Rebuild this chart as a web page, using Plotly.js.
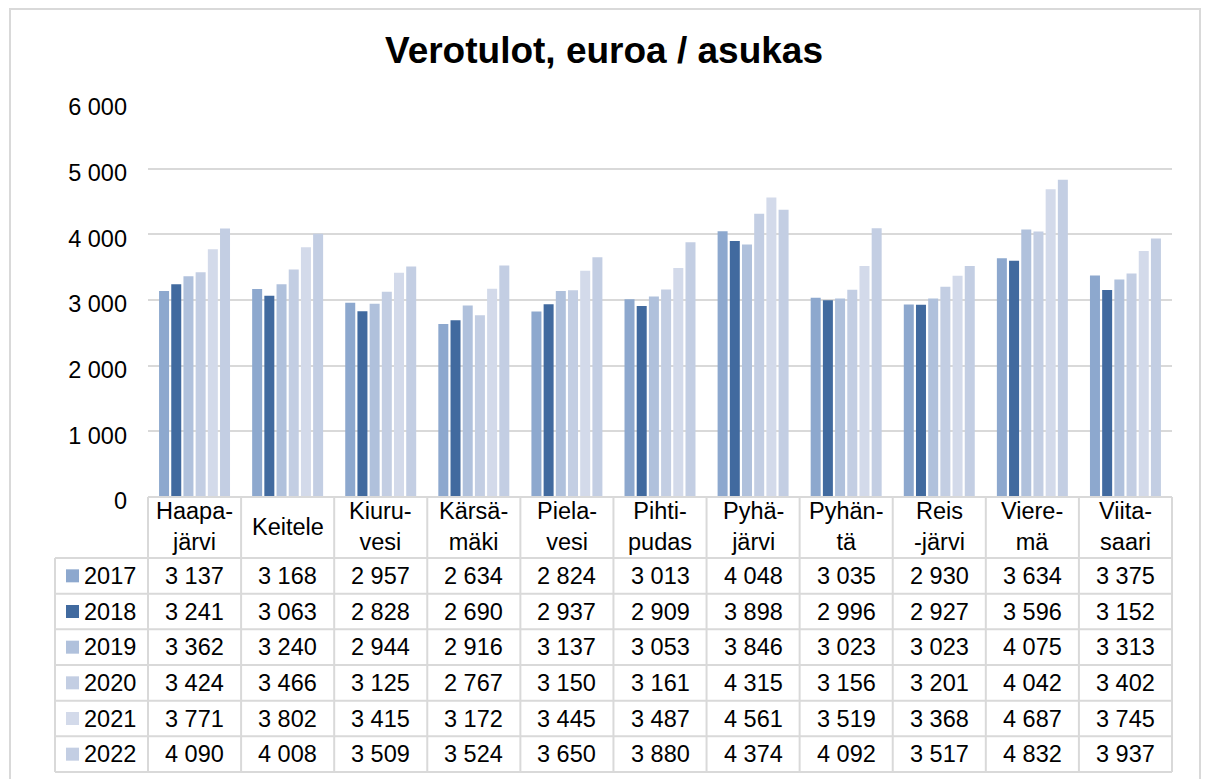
<!DOCTYPE html>
<html>
<head>
<meta charset="utf-8">
<script src="https://cdn.plot.ly/plotly-3.0.1.min.js"></script>
<style>html,body{margin:0;padding:0;background:#fff;}#chart{width:1208px;height:779px;}</style>
</head>
<body>
<div id="chart"></div>
<script>
// ---- Data ----
const categories = ["Haapajärvi","Keitele","Kiuruvesi","Kärsämäki","Pielavesi","Pihtipudas","Pyhäjärvi","Pyhäntä","Reisjärvi","Vieremä","Viitasaari"];
const categoryLabels = ["Haapa-<br>järvi","Keitele","Kiuru-<br>vesi","Kärsä-<br>mäki","Piela-<br>vesi","Pihti-<br>pudas","Pyhä-<br>järvi","Pyhän-<br>tä","Reis<br>-järvi","Viere-<br>mä","Viita-<br>saari"];
const years = ["2017","2018","2019","2020","2021","2022"];
const v2017 = [3137,3168,2957,2634,2824,3013,4048,3035,2930,3634,3375];
const v2018 = [3241,3063,2828,2690,2937,2909,3898,2996,2927,3596,3152];
const v2019 = [3362,3240,2944,2916,3137,3053,3846,3023,3023,4075,3313];
const v2020 = [3424,3466,3125,2767,3150,3161,4315,3156,3201,4042,3402];
const v2021 = [3771,3802,3415,3172,3445,3487,4561,3519,3368,4687,3745];
const v2022 = [4090,4008,3509,3524,3650,3880,4374,4092,3517,4832,3937];
const series = [v2017,v2018,v2019,v2020,v2021,v2022];
const colors = ["#8DA8CE","#416A9F","#B0C1DC","#C3CEE3","#D3DAEA","#C3CEE3"];

// ---- Geometry (pixels) ----
const W = 1208, H = 779;
const L = 148, R = 1172, T = 103, B = 497;
const px = p => (p - L) / (R - L);
const py = p => (B - p) / (B - T);
const headerBottom = 558, tableBottom = 772, tableLeft = 55;
const rowH = (tableBottom - headerBottom) / years.length;
const catW = (R - L) / categories.length;
const FONT = "Arial, 'Liberation Sans', Helvetica, sans-serif";
const FS = 23.5;
const gridCol = "#D9D9D9";

const fmt = n => String(n).replace(/\B(?=(\d{3})+(?!\d))/g, " ");

const traces = series.map((vals, i) => ({
  type: "bar",
  name: years[i],
  x: categories,
  y: vals,
  marker: { color: colors[i], line: { width: 0 } },
  hoverinfo: "x+y+name"
}));

const shapes = [];
const annotations = [];
const line = (x0, y0, x1, y1) => shapes.push({
  type: "line", xref: "paper", yref: "paper",
  x0: px(x0), y0: py(y0), x1: px(x1), y1: py(y1),
  line: { color: gridCol, width: 2 }, layer: "above"
});

// outer chart border
shapes.push({ type: "rect", xref: "paper", yref: "paper",
  x0: px(10), y0: py(9), x1: px(1200), y1: py(800),
  line: { color: gridCol, width: 2 }, layer: "below" });

// table lines
line(L, B, R, B);
for (let k = 0; k <= years.length; k++) {
  const y = headerBottom + k * rowH;
  line(tableLeft, y, R, y);
}
line(tableLeft, headerBottom, tableLeft, tableBottom);
for (let c = 0; c <= categories.length; c++) {
  const x = L + c * catW;
  line(x, B, x, tableBottom);
}

// header labels
categoryLabels.forEach((lab, c) => {
  annotations.push({
    xref: "paper", yref: "paper", x: px(L + (c + 0.5) * catW), y: py((B + headerBottom) / 2 - 1),
    text: lab, showarrow: false, xanchor: "center", yanchor: "middle",
    font: { family: FONT, size: FS, color: "#000" }
  });
});

// rows
years.forEach((yr, r) => {
  const yc = headerBottom + (r + 0.5) * rowH;
  shapes.push({ type: "rect", xref: "paper", yref: "paper",
    x0: px(66), x1: px(79), y0: py(yc - 6.5), y1: py(yc + 6.5),
    fillcolor: colors[r], line: { width: 0 }, layer: "above" });
  annotations.push({
    xref: "paper", yref: "paper", x: px(82), y: py(yc), text: yr,
    showarrow: false, xanchor: "left", yanchor: "middle",
    font: { family: FONT, size: FS, color: "#000" }
  });
  series[r].forEach((v, c) => {
    annotations.push({
      xref: "paper", yref: "paper", x: px(L + (c + 0.5) * catW), y: py(yc),
      text: fmt(v), showarrow: false, xanchor: "center", yanchor: "middle",
      font: { family: FONT, size: FS, color: "#000" }
    });
  });
});

const layout = {
  width: W, height: H,
  margin: { l: L, r: W - R, t: T, b: H - B, pad: 0 },
  paper_bgcolor: "#fff", plot_bgcolor: "#fff",
  separators: ", ",
  title: { text: "<b>Verotulot, euroa / asukas</b>", x: 0.5, xref: "container",
    y: 1 - 50 / H, yref: "container", yanchor: "middle",
    font: { family: FONT, size: 37, color: "#000" } },
  showlegend: false,
  barmode: "group",
  bargap: 0.214,
  bargroupgap: 0.18,
  xaxis: { type: "category", showticklabels: false, showgrid: false, zeroline: false,
    showline: false, ticks: "" },
  yaxis: { range: [0, 6000], dtick: 1000, tick0: 0, tickformat: ",d",
    showgrid: true, gridcolor: gridCol, gridwidth: 2, zeroline: false, showline: false,
    ticks: "", ticklabelstandoff: 20, ticklabelshift: 4,
    tickfont: { family: FONT, size: FS, color: "#000" } },
  shapes: shapes,
  annotations: annotations
};

Plotly.newPlot("chart", traces, layout, { displayModeBar: false, staticPlot: true });
</script>
</body>
</html>
